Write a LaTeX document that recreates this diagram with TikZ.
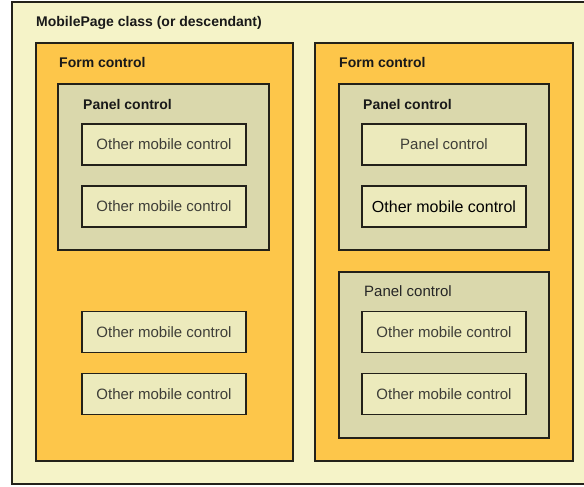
\documentclass[tikz,border=0pt]{standalone}
\usepackage{fontspec}
\setmainfont{Liberation Sans}
\definecolor{pagebg}{RGB}{245,243,200}
\definecolor{formbg}{RGB}{253,198,74}
\definecolor{panelbg}{RGB}{218,216,172}
\definecolor{ctrlbg}{RGB}{236,234,188}
\definecolor{edge}{RGB}{35,33,25}
\definecolor{ink}{RGB}{62,62,56}

\begin{document}
\begin{tikzpicture}[x=1pt, y=-1pt,
	pagebox/.style={draw=edge, fill=pagebg, line width=1.4pt},
	formbox/.style={draw=edge, fill=formbg, line width=1.4pt},
	panelbox/.style={draw=edge, fill=panelbg, line width=1.4pt},
	ctrl/.style={draw=edge, fill=ctrlbg, line width=1.4pt, minimum width=164pt, minimum height=41pt, inner sep=0pt, text=ink, font=\fontsize{15}{18}\selectfont},
	heading/.style={anchor=base west, inner sep=0pt, text=black!90, font=\bfseries\fontsize{14}{17}\selectfont}]
		%%%%% START %%%%%
		\useasboundingbox (0, 0) rectangle (584, 487);
		
		\draw[pagebox] (12, 2) rectangle (600, 484);
		\node[heading] (pagetitle) at (36, 27) {MobilePage class (or descendant)};
		
		% left form
		\draw[formbox] (36, 43) rectangle (293, 461);
		\node[heading] (formleft) at (59, 68) {Form control};
		
		\draw[panelbox] (58, 84) rectangle (269, 250);
		\node[heading] (panelleft) at (83, 110) {Panel control};
		\node[ctrl] (ctrla) at (164, 144.5) {Other mobile control};
		\node[ctrl] (ctrlb) at (164, 206.5) {Other mobile control};
		
		\node[ctrl] (ctrlc) at (164, 332) {Other mobile control};
		\node[ctrl] (ctrld) at (164, 394) {Other mobile control};
		
		% right form
		\draw[formbox] (315, 43) rectangle (573, 461);
		\node[heading] (formright) at (339, 68) {Form control};
		
		\draw[panelbox] (339, 84) rectangle (549, 250);
		\node[heading] (panelright) at (363, 110) {Panel control};
		\node[ctrl] (ctrle) at (444, 144.5) {Panel control};
		\node[ctrl, text=black, font=\fontsize{16}{19}\selectfont] (ctrlf) at (444, 206.5) {Other mobile control};
		
		\draw[panelbox] (339, 272) rectangle (549, 438);
		\node[heading, font=\fontsize{15}{18}\selectfont, text=black!85] (panellow) at (364, 296) {Panel control};
		\node[ctrl] (ctrlg) at (444, 332) {Other mobile control};
		\node[ctrl] (ctrlh) at (444, 394) {Other mobile control};
		%%%%% END %%%%%
\end{tikzpicture}
\end{document}
